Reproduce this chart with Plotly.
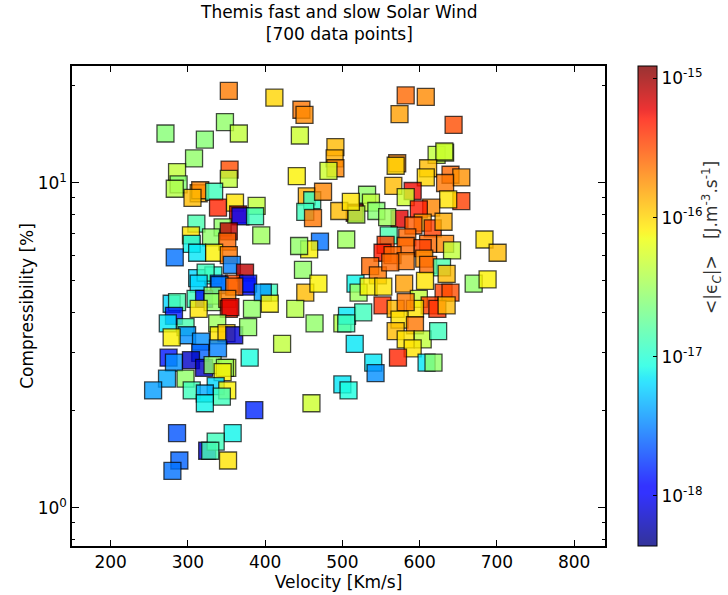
import numpy as np
import plotly.graph_objects as go

# ---- data: velocity [km/s], compressibility [%], log10(<|eps_C|>) ----
velocity = [
    353, 412, 447, 451, 445, 271, 348, 366, 322, 308, 286, 288, 283, 354, 353, 314, 316, 306, 334, 339,
    361, 365, 368, 389, 387, 395, 345, 311, 304, 305, 353, 330, 351, 312, 334, 283, 353, 357, 312, 333,
    323, 374, 340, 360, 376, 378, 405,
    314, 341, 360, 397, 279, 286, 310, 321, 332, 332, 314, 351, 353, 355, 282, 274, 297, 299, 338, 340,
    350, 360, 279, 317, 339, 316, 275, 282, 304, 321, 332, 351, 348, 345, 297, 336, 305, 322, 351, 344,
    322, 273, 255, 406, 383, 378, 380, 386, 286, 358, 325, 336, 329, 352, 289, 280,
    441, 452, 439, 464, 422, 460, 454, 461, 452, 462, 475, 491, 490, 491, 482, 471, 457, 444, 505, 449,
    469, 500, 506, 527, 505, 516, 540, 543, 500, 508,
    582, 608, 574, 644, 622, 633, 632, 571, 569, 611, 608, 640, 654, 633, 566, 591, 582, 654, 637, 615,
    599, 574, 532, 537, 516, 518, 496, 511, 544, 558, 604, 617, 631, 592, 560, 584, 582, 611, 633, 642,
    556, 604, 552, 565, 582, 606, 611, 629, 635, 536, 546, 517, 521, 534, 553, 580, 607, 631, 640, 552,
    599, 613, 623, 635, 569, 594, 582, 574, 569, 594, 582, 604, 624, 591, 572, 609, 618, 684, 701, 670,
    688, 562,
]
compressibility = [
    19.2, 18.3, 16.8, 16.2, 14.0, 14.2, 15.4, 14.2, 13.6, 11.9, 10.8, 9.9, 9.6, 11.0, 10.3, 9.3, 9.5, 9.0, 9.4, 8.4,
    8.7, 8.0, 7.9, 8.5, 7.9, 6.9, 7.3, 7.5, 6.9, 6.5, 7.1, 6.8, 6.6, 6.1, 6.1, 5.9, 6.0, 5.6, 5.1, 5.2,
    5.3, 5.3, 4.9, 4.9, 4.8, 4.9, 4.6,
    4.9, 4.85, 4.8, 4.6, 4.25, 4.3, 4.4, 4.4, 4.5, 4.3, 4.1, 4.4, 4.1, 4.15, 3.9, 3.7, 3.6, 3.4, 3.7, 3.4,
    3.45, 3.4, 3.35, 3.25, 3.1, 3.0, 2.9, 2.8, 2.85, 2.7, 2.75, 2.7, 2.7, 2.62, 2.5, 2.37, 2.3, 2.25, 2.3, 2.2,
    2.1, 2.5, 2.3, 4.25, 4.1, 3.6, 2.9, 2.0, 1.70, 1.70, 1.50, 1.60, 1.50, 1.40, 1.40, 1.30,
    10.5, 4.6, 4.1, 3.7, 3.2, 2.1, 9.1, 8.85, 8.15, 7.8, 9.4, 12.9, 11.9, 11.1, 10.9, 6.6, 6.25, 6.4, 6.7, 5.4,
    4.9, 3.7, 3.9, 4.0, 3.7, 3.2, 2.8, 2.6, 2.4, 2.3,
    18.6, 18.4, 16.3, 15.1, 12.2, 12.4, 12.5, 11.5, 11.3, 11.1, 10.4, 10.6, 10.4, 10.0, 9.8, 9.45, 9.05, 8.8, 8.9, 8.4,
    8.3, 7.75, 9.2, 8.7, 8.1, 8.0, 8.2, 8.75, 8.2, 7.85, 7.55, 7.25, 7.6, 7.4, 6.9, 6.8, 6.4, 6.5, 6.5, 6.2,
    6.45, 6.3, 6.1, 6.0, 5.75, 5.85, 5.6, 5.5, 5.25, 5.55, 5.2, 4.9, 4.6, 4.8, 4.8, 4.9, 5.0, 4.6, 4.6, 4.2,
    4.4, 4.2, 4.1, 4.2, 4.1, 4.1, 4.3, 3.8, 3.5, 3.65, 3.3, 3.3, 3.5, 3.1, 2.9, 2.8, 2.8, 6.7, 6.1, 4.9,
    5.05, 5.7,
]
log_eps = [
    -15.67, -16.0, -15.65, -15.72, -16.3, -16.6, -16.55, -16.35, -16.6, -16.55, -16.35, -16.6, -16.4, -15.5, -16.35, -15.85, -15.7, -15.9, -16.9, -15.35,
    -16.05, -15.15, -17.9, -16.35, -16.9, -16.5, -16.55, -16.85, -16.05, -17.1, -15.1, -16.55, -15.6, -17.15, -16.1, -17.55, -15.65, -17.5, -17.2, -17.0,
    -16.9, -15.1, -17.7, -15.5, -17.9, -17.85, -16.9,
    -17.2, -17.5, -15.6, -17.4, -17.2, -16.85, -16.9, -17.9, -16.55, -16.55, -16.05, -15.7, -15.35, -15.2, -17.85, -17.15, -16.85, -17.45, -16.5, -16.05,
    -15.95, -18.1, -16.1, -17.45, -17.5, -17.6, -17.85, -17.45, -18.15, -18.15, -16.55, -16.35, -16.5, -16.1, -16.55, -17.2, -16.9, -17.35, -16.1, -16.9,
    -17.1, -17.35, -17.4, -16.1, -16.55, -16.55, -17.05, -17.8, -17.65, -17.1, -18.1, -16.9, -16.85, -16.05, -17.6, -17.55,
    -16.1, -15.9, -16.4, -16.55, -16.35, -16.3, -15.85, -16.95, -16.9, -15.65, -15.7, -15.9, -15.85, -15.7, -16.3, -17.55, -16.1, -16.55, -16.5, -16.55,
    -16.1, -16.4, -17.15, -16.9, -16.9, -17.15, -17.15, -17.45, -17.15, -17.05,
    -15.6, -15.72, -15.8, -15.5, -16.35, -16.4, -16.3, -15.7, -16.0, -15.9, -16.0, -15.6, -15.75, -15.65, -15.9, -15.25, -16.3, -15.45, -16.05, -15.7,
    -15.3, -15.2, -16.55, -16.35, -15.1, -16.4, -15.9, -16.05, -16.6, -16.5, -15.8, -15.45, -15.85, -15.55, -16.85, -15.6, -15.6, -15.6, -15.7, -16.35,
    -15.45, -15.45, -15.3, -15.6, -15.65, -15.75, -15.6, -16.85, -15.9, -15.6, -15.65, -17.1, -16.5, -16.1, -16.05, -15.8, -16.05, -15.45, -15.5, -15.4,
    -16.35, -15.45, -15.4, -15.9, -15.9, -16.05, -15.65, -16.05, -15.9, -15.65, -16.05, -16.35, -16.9, -16.05, -15.35, -17.15, -16.55, -16.05, -15.9, -16.55,
    -16.1, -15.6,
]

x_ticks = [200, 300, 400, 500, 600, 700, 800]
y_ticks = [1, 10]
y_ticktext = ["10<sup>0</sup>", "10<sup>1</sup>"]
cb_ticks = [-18, -17, -16, -15]
cb_ticktext = ["10<sup>-18</sup>", "10<sup>-17</sup>", "10<sup>-16</sup>", "10<sup>-15</sup>"]

# ---- matplotlib "jet" colormap, with alpha ----
ALPHA = 0.8
seg = {
    "r": [(0, 0), (0.35, 0), (0.66, 1), (0.89, 1), (1, 0.5)],
    "g": [(0, 0), (0.125, 0), (0.375, 1), (0.64, 1), (0.91, 0), (1, 0)],
    "b": [(0, 0.5), (0.11, 1), (0.34, 1), (0.65, 0), (1, 0)],
}
stops = sorted(set(np.round(np.linspace(0, 1, 41), 4).tolist()
                   + [0.11, 0.125, 0.34, 0.35, 0.375, 0.64, 0.65, 0.66, 0.89, 0.91]))
def chan(c, t):
    xs = [p[0] for p in seg[c]]
    ys = [p[1] for p in seg[c]]
    return float(np.interp(t, xs, ys))
jet = [[t, "rgba(%d,%d,%d,%.2f)" % (round(255 * chan("r", t)), round(255 * chan("g", t)),
                                     round(255 * chan("b", t)), ALPHA)] for t in stops]

FONT = "DejaVu Sans"
L, R, T, B = 72, 605, 66, 546
W, H = 728, 595
PW, PH = R - L, B - T

fig = go.Figure()
fig.add_trace(go.Scatter(
    x=velocity, y=compressibility, mode="markers",
    marker=dict(
        symbol="square", size=17, color=log_eps, colorscale=jet,
        cmin=-18.36, cmax=-14.91,
        line=dict(color="rgba(0,0,0,0.7)", width=1.3),
        colorbar=dict(
            x=(638 - L) / PW, xanchor="left", xpad=0, ypad=0,
            y=0.5, yanchor="middle", len=1.0, lenmode="fraction",
            thickness=19, outlinecolor="black", outlinewidth=1,
            tickvals=cb_ticks, ticktext=cb_ticktext, ticks="inside", ticklen=4,
            tickcolor="black", tickfont=dict(family=FONT, size=17, color="black"),
        ),
    ),
    showlegend=False, hoverinfo="x+y",
))

fig.update_layout(
    template="none",
    width=W, height=H, autosize=False,
    margin=dict(l=L, r=W - R, t=T, b=H - B, pad=0),
    paper_bgcolor="white", plot_bgcolor="white",
    font=dict(family=FONT, size=17, color="black"),
    xaxis=dict(
        range=[150, 840], tickvals=x_ticks, ticks="inside", ticklen=6, tickcolor="black",
        showline=True, linecolor="black", linewidth=1.5, mirror="allticks",
        showgrid=False, zeroline=False, automargin=False,
        title=dict(text="Velocity [Km/s]", standoff=4, font=dict(family=FONT, size=17)),
        tickfont=dict(family=FONT, size=17),
    ),
    yaxis=dict(
        type="log", range=[-0.117, 1.36], tickvals=y_ticks, ticktext=y_ticktext,
        ticks="inside", ticklen=7, tickcolor="black",
        showline=True, linecolor="black", linewidth=1.5, mirror="allticks",
        showgrid=False, zeroline=False, automargin=False,
        minor=dict(tickvals=[0.8, 0.9, 2, 3, 4, 5, 6, 7, 8, 9, 20], ticks="inside",
                   ticklen=3, tickcolor="black", showgrid=False),
        title=dict(text="Compressibility [%]", standoff=0, font=dict(family=FONT, size=17)),
        tickfont=dict(family=FONT, size=17),
    ),
    annotations=[
        dict(text="Themis fast and slow Solar Wind<br>[700 data points]",
             xref="paper", yref="paper", x=0.5, y=1 + 20 / PH,
             xanchor="center", yanchor="bottom", showarrow=False,
             font=dict(family=FONT, size=17, color="black")),
        dict(text="<|ϵ<sub><i>C</i></sub>|>   [J.m<sup>-3</sup>.s<sup>-1</sup>]",
             xref="paper", yref="paper", x=(712 - L) / PW, y=(B - 238) / PH,
             xanchor="center", yanchor="middle", textangle=-90, showarrow=False,
             font=dict(family=FONT, size=17, color="#333333")),
    ],
)

fig.write_html("out.html", config={"displayModeBar": False},
               post_script="document.body.style.margin='0px';")
